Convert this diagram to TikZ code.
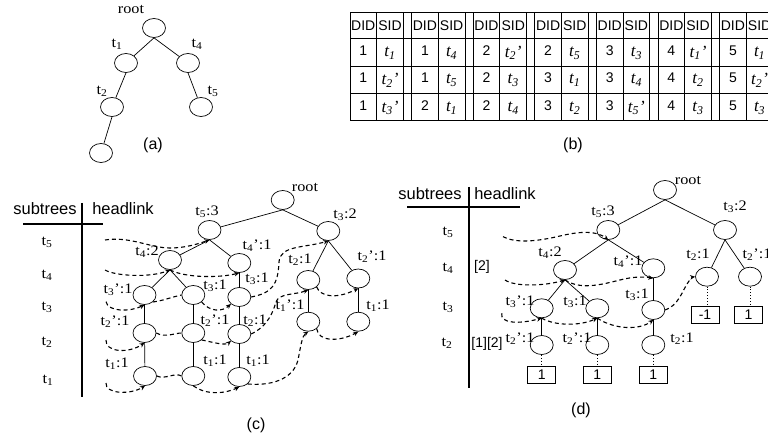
\documentclass[tikz,border=0pt]{standalone}
\usepackage{fontspec}
\setmainfont{Liberation Serif}
\setsansfont{Liberation Sans}
\usetikzlibrary{shapes.geometric,arrows.meta}
\newcommand\ts[1]{t\textsubscript{#1}}
\newcommand\ti[1]{\textit{t\textsubscript{#1}}}
\newcommand\tip[1]{\textit{t\textsubscript{#1}’}}
\begin{document}
\begin{tikzpicture}[x=1pt,y=-1pt,
  nd/.style={draw, ellipse, minimum width=23pt, minimum height=19pt, inner sep=0pt, line width=0.7pt},
  ed/.style={line width=0.7pt},
  hl/.style={dash pattern=on 4pt off 3pt, line width=1.1pt},
  hla/.style={hl, -{Stealth[length=5pt,width=4.5pt]}},
  dt/.style={dotted, line width=0.9pt},
  lb/.style={font=\fontsize{14.5}{14.5}\selectfont, inner sep=0pt, xscale=1.12, transform shape},
  rl/.style={font=\fontsize{15}{15}\selectfont, inner sep=0pt, xscale=1.1, transform shape},
  hd/.style={font=\sffamily\fontsize{16.5}{16.5}\selectfont, inner sep=0pt},
  captxt/.style={font=\sffamily\fontsize{16}{16}\selectfont, inner sep=0pt},
  tbn/.style={font=\sffamily\fontsize{14}{14}\selectfont, inner sep=0pt},
  tbt/.style={font=\fontsize{17}{17}\selectfont, inner sep=0pt},
  tb/.style={line width=0.8pt},
  bx/.style={draw, line width=0.8pt, minimum width=28pt, minimum height=17pt, inner sep=0pt, font=\sffamily\fontsize{14}{14}\selectfont},
  hk/.style={font=\sffamily\fontsize{14}{14}\selectfont, inner sep=0pt}
]
\useasboundingbox (0,0) rectangle (768,438);
\clip (0,0) rectangle (768,438);

% ---------------- (a)
\node[nd] (aR) at (154,28) {};
\node[nd] (a1) at (126,63) {};
\node[nd] (a4) at (188,63) {};
\node[nd] (a2) at (112,107) {};
\node[nd] (a5) at (201,107) {};
\node[nd] (a3) at (101,153) {};
\draw[ed] (aR.south) -- (a1);
\draw[ed] (aR.south) -- (a4);
\draw[ed] (a1.south) -- (a2);
\draw[ed] (a2.south) -- (a3);
\draw[ed] (a4.south) -- (a5);
\node[lb] (laR) at (131,9) {root};
\node[rl] (la1) at (117,44) {\ts{1}};
\node[rl] (la4) at (197,44) {\ts{4}};
\node[rl] (la2) at (102,91) {\ts{2}};
\node[rl] (la5) at (213,91) {\ts{5}};
\node[captxt] (capa) at (153,145) {(a)};

% ---------------- (b) table
\foreach \yy in {12.5,38,66,93.3,120.5}
  \draw[tb] (350,\yy) -- (790,\yy);
\foreach \k in {0,...,6}{
  \pgfmathsetmacro\xo{350+61.6*\k}
  \draw[tb] (\xo,12.5) -- (\xo,120.5);
  \draw[tb] (\xo+26.6,12.5) -- (\xo+26.6,120.5);
  \draw[tb] (\xo+53.4,12.5) -- (\xo+53.4,120.5);
  \node[tbn] (hD\k) at (\xo+13.3,25.5) {DID};
  \node[tbn] (hS\k) at (\xo+40,25.5) {SID};
}
\foreach [count=\k from 0] \dA/\sA/\dB/\sB/\dC/\sC in {
  1/\ti{1}/1/\tip{2}/1/\tip{3},
  1/\ti{4}/1/\ti{5}/2/\ti{1},
  2/\tip{2}/2/\ti{3}/2/\ti{4},
  2/\ti{5}/3/\ti{1}/3/\ti{2},
  3/\ti{3}/3/\ti{4}/3/\tip{5},
  4/\tip{1}/4/\ti{2}/4/\ti{3},
  5/\ti{1}/5/\tip{2}/5/\ti{3}}{
  \pgfmathsetmacro\xo{350+61.6*\k}
  \node[tbn] (dA\k) at (\xo+13.3,50.5) {\dA};
  \node[tbt] (sA\k) at (\xo+40,53) {\sA};
  \node[tbn] (dB\k) at (\xo+13.3,78) {\dB};
  \node[tbt] (sB\k) at (\xo+40,80.5) {\sB};
  \node[tbn] (dC\k) at (\xo+13.3,105.5) {\dC};
  \node[tbt] (sC\k) at (\xo+40,108) {\sC};
}
\node[captxt] (capb) at (573,145) {(b)};

% ---------------- (c)
\node[hd] (chs) at (45,209) {subtrees};
\node[hd] (chh) at (123,209) {headlink};
\draw[line width=1.2pt] (82,203) -- (82,397);
\draw[line width=1.2pt] (23,224) -- (103,224);
\node[rl] (cr5) at (47,242) {\ts{5}};
\node[rl] (cr4) at (47,275) {\ts{4}};
\node[rl] (cr3) at (47,307) {\ts{3}};
\node[rl] (cr2) at (47,342) {\ts{2}};
\node[rl] (cr1) at (48,380) {\ts{1}};

\node[nd] (cR) at (282.7,200) {};
\node[nd] (c53) at (209.5,230) {};
\node[nd] (c32) at (328.3,231) {};
\node[nd] (c42) at (170,260) {};
\node[nd] (c41p) at (239.3,263) {};
\node[nd] (c31p) at (144.5,295) {};
\node[nd] (c21p) at (144.5,333) {};
\node[nd] (c11a) at (145,376) {};
\node[nd] (c31a) at (193.3,295) {};
\node[nd] (c21q) at (193.3,333) {};
\node[nd] (c11b) at (193.3,376) {};
\node[nd] (c31b) at (239.3,297) {};
\node[nd] (c21b) at (239.3,334) {};
\node[nd] (c11c) at (239.3,377) {};
\node[nd] (c21r) at (308.3,280) {};
\node[nd] (c21s) at (358.3,278.5) {};
\node[nd] (c11r) at (308.3,321.7) {};
\node[nd] (c11s) at (358.3,321.7) {};

\draw[ed] (cR.south) -- (c53);
\draw[ed] (cR.south) -- (c32);
\draw[ed] (c53.south) -- (c42);
\draw[ed] (c53.south) -- (c41p);
\draw[ed] (c42.south) -- (c31p);
\draw[ed] (c42.south) -- (c31a);
\draw[ed] (c31p) -- (c21p);
\draw[ed] (c21p) -- (c11a);
\draw[ed] (c31a) -- (c21q);
\draw[ed] (c21q) -- (c11b);
\draw[ed] (c41p) -- (c31b);
\draw[ed] (c31b) -- (c21b);
\draw[ed] (c21b) -- (c11c);
\draw[ed] (c32.south) -- (c21r);
\draw[ed] (c32.south) -- (c21s);
\draw[ed] (c21r) -- (c11r);
\draw[ed] (c21s) -- (c11s);

\node[lb] (lcR) at (305,187) {root};
\node[lb] (lc53) at (207,212) {\ts{5}:3};
\node[lb] (lc32) at (345,215) {\ts{3}:2};
\node[lb] (lc42) at (147,252) {\ts{4}:2};
\node[lb] (lc41p) at (257,246) {\ts{4}’:1};
\node[lb] (lc31p) at (118,290) {\ts{3}’:1};
\node[lb] (lc21p) at (115,322) {\ts{2}’:1};
\node[lb] (lc11a) at (117,364) {\ts{1}:1};
\node[lb] (lc31a) at (215,286) {\ts{3}:1};
\node[lb] (lc21q) at (215,321) {\ts{2}’:1};
\node[lb] (lc11b) at (215,361) {\ts{1}:1};
\node[lb] (lc31b) at (257,279) {\ts{3}:1};
\node[lb] (lc21b) at (255,321) {\ts{2}:1};
\node[lb] (lc11c) at (258,361) {\ts{1}:1};
\node[lb] (lc21r) at (300,260) {\ts{2}:1};
\node[lb] (lc21s) at (372,257) {\ts{2}’:1};
\node[lb] (lc11r) at (290,306) {\ts{1}’:1};
\node[lb] (lc11s) at (378,306) {\ts{1}:1};

\coordinate (c5s) at (105,240);
\coordinate (c4s) at (105,270);
\coordinate (c3s) at (106,301.7);
\coordinate (c2s) at (106,340);
\coordinate (c1s) at (106,383);
\draw[hla] (c5s) .. controls (130,236) and (150,248) .. (170,248) .. controls (185,248) and (198,244) .. (c53.south);
\draw[hla] (c4s) .. controls (115,276) and (150,278) .. (c42.south);
\draw[hla] (c42.south) .. controls (185,278) and (220,278) .. (c41p.south);
\draw[hla] (c3s) .. controls (108,312) and (130,312) .. (c31p.south);
\draw[hl] (c31p.south east) .. controls (162,301) and (172,297) .. (c31a.west);
\draw[hla] (c31a.south east) .. controls (210,312) and (222,312) .. (c31b.south west);
\draw[hla] (c31b.east) .. controls (272,293) and (278,285) .. (279,262) .. controls (280,245) and (305,248) .. (c32.south);
\draw[hla] (c2s) .. controls (105,352) and (128,354) .. (c21p.south);
\draw[hl] (c21p.east) .. controls (165,338) and (175,333) .. (c21q.west);
\draw[hla] (c21q.south east) .. controls (212,342) and (225,346) .. (c21b.south west);
\draw[hla] (c21b.east) .. controls (268,326) and (273,312) .. (276,302) .. controls (279,293) and (295,295) .. (c21r.south);
\draw[hla] (c21r.south east) .. controls (320,296) and (335,300) .. (c21s.south);
\draw[hla] (c1s) .. controls (105,394) and (130,395) .. (c11a.south);
\draw[hl] (c11a.east) .. controls (165,380) and (175,372) .. (c11b.west);
\draw[hla] (c11b.south) .. controls (205,395) and (225,394) .. (c11c.south);
\draw[hla] (c11c.south east) .. controls (270,386) and (293,380) .. (298,360) .. controls (301,345) and (302,336) .. (c11r.south);
\draw[hla] (c11r.south east) .. controls (318,342) and (340,342) .. (c11s.south);
\node[captxt] (capc) at (256,425) {(c)};

% ---------------- (d)
\node[hd] (dhs) at (430,194) {subtrees};
\node[hd] (dhh) at (505,194) {headlink};
\draw[line width=1.2pt] (469,187) -- (469,388);
\draw[line width=1.2pt] (407,207) -- (520,207);
\node[rl] (dr5) at (448,232) {\ts{5}};
\node[rl] (dr4) at (448,268) {\ts{4}};
\node[rl] (dr3) at (448,307) {\ts{3}};
\node[rl] (dr2) at (447,343) {\ts{2}};
\node[hk] (dk4) at (482,267) {[2]};
\node[hk] (dk2) at (487,344) {[1][2]};

\node[nd] (dR) at (665,190) {};
\node[nd] (d53) at (608.3,230) {};
\node[nd] (d32) at (725,230) {};
\node[nd] (d42) at (565,270) {};
\node[nd] (d41p) at (653.3,268.3) {};
\node[nd] (d31p) at (541.7,308.3) {};
\node[nd] (d31a) at (597.3,308.3) {};
\node[nd] (d31r) at (653.3,310) {};
\node[nd] (d21p) at (541.7,345) {};
\node[nd] (d21q) at (597.3,345) {};
\node[nd] (d21r) at (653.3,345) {};
\node[nd] (d21s) at (707,276.7) {};
\node[nd] (d21t) at (750,276.7) {};
\node[bx] (bx1) at (541.7,375) {1};
\node[bx] (bx2) at (597.3,375) {1};
\node[bx] (bx3) at (653.3,375) {1};
\node[bx] (bx4) at (705,315) {-1};
\node[bx] (bx5) at (748.5,315) {1};

\draw[ed] (dR.south) -- (d53);
\draw[ed] (dR.south) -- (d32);
\draw[ed] (d53.south) -- (d42);
\draw[ed] (d53.south) -- (d41p);
\draw[ed] (d42.south) -- (d31p);
\draw[ed] (d42.south) -- (d31a);
\draw[ed] (d41p) -- (d31r);
\draw[ed] (d31p) -- (d21p);
\draw[ed] (d31a) -- (d21q);
\draw[ed] (d31r) -- (d21r);
\draw[ed] (d32.south) -- (d21s);
\draw[ed] (d32.south) -- (d21t);
\draw[dt] (d21p) -- (bx1);
\draw[dt] (d21q) -- (bx2);
\draw[dt] (d21r) -- (bx3);
\draw[dt] (d21s) -- (bx4.north -| d21s);
\draw[dt] (d21t) -- (bx5.north -| d21t);

\node[lb] (ldR) at (688,180) {root};
\node[lb] (ld53) at (603,212) {\ts{5}:3};
\node[lb] (ld32) at (735,207) {\ts{3}:2};
\node[lb] (ld42) at (550,253) {\ts{4}:2};
\node[lb] (ld41p) at (628,262) {\ts{4}’:1};
\node[lb] (ld31p) at (520,302) {\ts{3}’:1};
\node[lb] (ld31a) at (575,302) {\ts{3}:1};
\node[lb] (ld31r) at (637,295) {\ts{3}:1};
\node[lb] (ld21p) at (520,338.5) {\ts{2}’:1};
\node[lb] (ld21q) at (577,338.5) {\ts{2}’:1};
\node[lb] (ld21r) at (682,338.5) {\ts{2}:1};
\node[lb] (ld21s) at (698,255) {\ts{2}:1};
\node[lb] (ld21t) at (757,255) {\ts{2}’:1};

\coordinate (d5s) at (503,236.7);
\coordinate (d4s) at (505,280);
\coordinate (d3s) at (501.7,313.3);
\draw[hla] (d5s) .. controls (515,243) and (535,242) .. (560,236) .. controls (585,230) and (598,232) .. (d53.south);
\draw[hla] (d4s) .. controls (515,287) and (545,286) .. (d42.south);
\draw[hla] (d42.south) .. controls (580,290) and (600,285) .. (620,280) .. controls (635,276) and (645,277) .. (d41p.south);
\draw[hla] (d3s) .. controls (500,324) and (520,324) .. (d31p.south);
\draw[hla] (d31p.south) .. controls (555,326) and (580,326) .. (d31a.south);
\draw[hla] (d31a.south) .. controls (615,330) and (640,330) .. (d31r.south);
\draw[hla] (d31r.east) .. controls (678,306) and (683,290) .. (687,284) .. controls (690,279) and (693,277) .. (d21s.west);
\node[captxt] (capd) at (581,410) {(d)};
\end{tikzpicture}
\end{document}
